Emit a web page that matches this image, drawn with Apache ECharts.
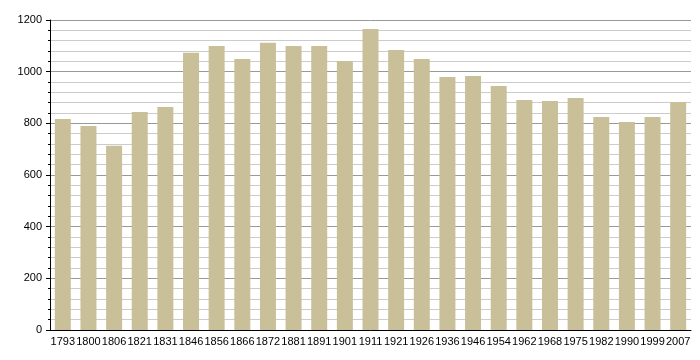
<!DOCTYPE html>
<html>
<head>
<meta charset="utf-8">
<script src="https://cdn.jsdelivr.net/npm/echarts@6/dist/echarts.min.js"></script>
<style>html,body{margin:0;padding:0;background:#fff}#c{width:700px;height:360px}</style>
</head>
<body>
<div id="c"></div>
<script>
var years = ['1793','1800','1806','1821','1831','1846','1856','1866','1872','1881','1891','1901','1911','1921','1926','1936','1946','1954','1962','1968','1975','1982','1990','1999','2007'];
var population = [817,790,713,844,863,1073,1099,1049,1112,1099,1099,1041,1165,1084,1049,979,983,945,890,886,898,825,805,825,883];
var yTicks = [0,200,400,600,800,1000,1200];

var chart = echarts.init(document.getElementById('c'), null, {renderer:'canvas'});
chart.setOption({
  animation:false,
  grid:{left:50,right:9,top:20,bottom:30,containLabel:false},
  xAxis:{
    type:'category', data:years,
    axisLine:{lineStyle:{color:'#000',width:1}},
    axisTick:{show:false},
    axisLabel:{color:'#000',fontSize:11,fontFamily:'Liberation Sans, Arial',margin:6,interval:0}
  },
  yAxis:{
    type:'value', min:yTicks[0], max:yTicks[yTicks.length-1], interval:200,
    axisLine:{show:true,lineStyle:{color:'#000',width:1}},
    axisTick:{show:true,inside:false,length:4,lineStyle:{color:'#000'}},
    minorTick:{show:true,splitNumber:5,length:2,lineStyle:{color:'#000'}},
    splitLine:{show:true,lineStyle:{color:'#999',width:1}},
    minorSplitLine:{show:true,lineStyle:{color:'#ccc',width:1}},
    axisLabel:{color:'#000',fontSize:11,fontFamily:'Liberation Sans, Arial',margin:8,
      formatter:function(v){return String(v);}}
  },
  series:[{
    type:'bar', data:population, barWidth:16,
    itemStyle:{color:'#c9c09a'}
  }]
});
</script>
</body>
</html>
